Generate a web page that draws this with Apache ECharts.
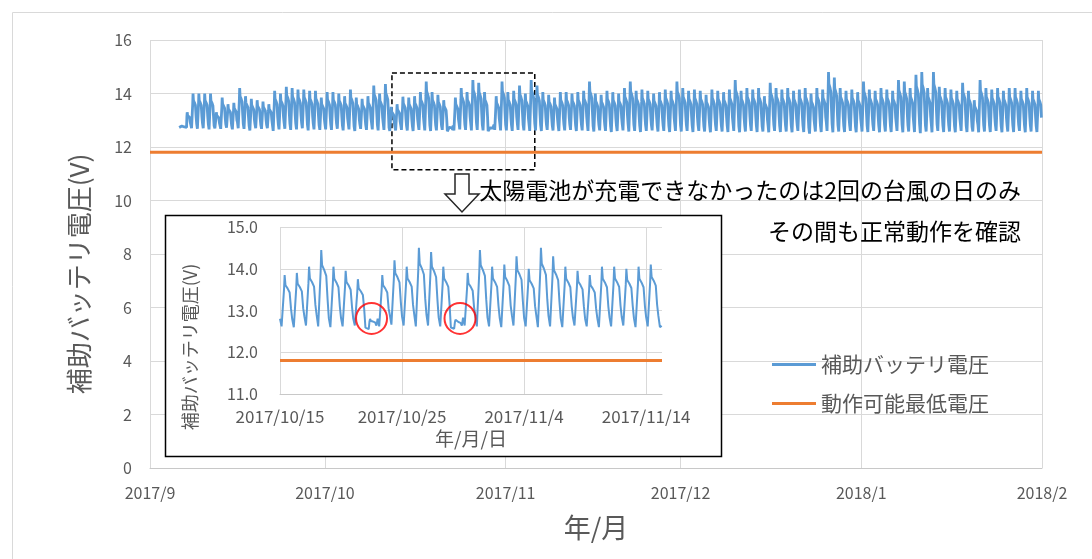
<!DOCTYPE html>
<html>
<head>
<meta charset="utf-8">
<script src="https://cdn.jsdelivr.net/npm/echarts@6/dist/echarts.min.js"></script>
<style>
html, body { margin: 0; padding: 0; background: #fff; }
#main { width: 1092px; height: 559px; }
</style>
</head>
<body>
<div id="main"></div>
<script>
// 日ごとのピーク電圧 (V)  9/6 から
const peakSep = [12.8, 13.3, 14.0, 14.0, 14.0, 14.0, 13.3, 13.85, 13.6, 13.65, 14.2, 13.9, 13.8, 13.75, 13.7, 13.6, 14.1, 14.0, 14.25, 14.2, 14.15, 14.15, 14.1, 14.1, 13.85];
const peakOct = [14.05, 14.05, 14.0, 13.9, 14.15, 13.85, 13.8, 13.9, 14.3, 14.0, 14.35, 13.5, 13.6, 13.88, 13.85, 13.9, 14.05, 14.45, 14.05, 13.95, 13.75, 12.8, 13.85, 14.2, 14.05, 14.5, 14.4, 14.05, 12.78, 13.9, 14.45];
const peakNov = [14.05, 14.1, 14.3, 14.0, 14.5, 14.3, 14.05, 13.95, 13.85, 14.05, 14.05, 14.0, 14.05, 14.1, 14.45, 14.0, 13.95, 14.1, 14.05, 14.0, 14.2, 14.45, 14.1, 14.15, 14.1, 14.0, 14.05, 14.15, 14.1, 14.45];
const peakDec = [14.2, 14.1, 14.15, 14.1, 13.95, 14.15, 14.1, 14.05, 14.15, 14.5, 14.1, 14.2, 14.15, 14.2, 13.9, 14.4, 14.2, 14.15, 14.2, 14.1, 14.15, 14.2, 14.0, 14.2, 14.15, 14.8, 14.6, 14.2, 14.1, 14.15, 14.05];
const peakJan = [14.45, 14.15, 14.1, 14.2, 14.15, 14.1, 14.5, 14.45, 14.2, 14.7, 14.8, 14.2, 14.8, 14.25, 14.2, 14.15, 14.1, 14.4, 14.1, 13.75, 14.5, 14.2, 14.15, 14.2, 14.1, 14.2, 14.2, 14.1, 14.2, 14.1, 14.1];

// 日ごとの最低電圧 (V)
const lowSep = [12.72, 12.72, 12.7, 12.68, 12.7, 12.66, 12.7, 12.68, 12.72, 12.66, 12.7, 12.68, 12.62, 12.7, 12.68, 12.7, 12.6, 12.66, 12.68, 12.64, 12.66, 12.7, 12.62, 12.66, 12.64];
const lowOct = [12.66, 12.64, 12.68, 12.62, 12.66, 12.6, 12.68, 12.64, 12.66, 12.62, 12.64, 12.6, 12.62, 12.64, 12.62, 12.6, 12.64, 12.62, 12.6, 12.62, 12.64, 12.55, 12.62, 12.66, 12.64, 12.62, 12.64, 12.62, 12.56, 12.64, 12.62];
const lowNov = [12.62, 12.6, 12.64, 12.62, 12.6, 12.62, 12.6, 12.64, 12.62, 12.6, 12.62, 12.64, 12.6, 12.62, 12.6, 12.58, 12.62, 12.6, 12.56, 12.6, 12.62, 12.58, 12.6, 12.56, 12.6, 12.62, 12.58, 12.6, 12.56, 12.6];
const lowDec = [12.58, 12.6, 12.56, 12.6, 12.58, 12.55, 12.6, 12.58, 12.56, 12.6, 12.55, 12.58, 12.6, 12.56, 12.58, 12.55, 12.6, 12.56, 12.58, 12.55, 12.6, 12.56, 12.5, 12.58, 12.56, 12.6, 12.55, 12.58, 12.56, 12.6, 12.55];
const lowJan = [12.58, 12.56, 12.6, 12.55, 12.58, 12.56, 12.6, 12.55, 12.58, 12.56, 12.52, 12.58, 12.55, 12.6, 12.56, 12.58, 12.55, 12.6, 12.56, 12.58, 12.55, 12.58, 12.56, 12.6, 12.55, 12.58, 12.56, 12.6, 12.55, 12.58, 12.56];

// 1日の波形 (時刻の割合, 最低→ピークの位置)  拡大図から読み取り
const dayShape = [[0, 0.15], [0.13, 0], [0.27, 0.02], [0.33, 0.72], [0.38, 1], [0.45, 0.8], [0.62, 0.74], [0.79, 0.66], [0.9, 0.35]];

const minVoltage = 11.8;
const seriesNames = ['補助バッテリ電圧', '動作可能最低電圧'];
// 台風の日 (拡大図の日数, 電圧)
const typhoonMarks = [[7.5, 12.81], [14.75, 12.81]];

const DAY = 86400000;
const FONT = '"Noto Sans CJK JP", "Noto Sans", sans-serif';
const t = (y, m, d, h) => new Date(y, m, d, h || 0).getTime();
const OCT15 = t(2017, 9, 15);
const INSET_END = 31.3;

const months = [
    {y: 2017, m: 8, d0: 6, peak: peakSep, low: lowSep},
    {y: 2017, m: 9, d0: 1, peak: peakOct, low: lowOct},
    {y: 2017, m: 10, d0: 1, peak: peakNov, low: lowNov},
    {y: 2017, m: 11, d0: 1, peak: peakDec, low: lowDec},
    {y: 2018, m: 0, d0: 1, peak: peakJan, low: lowJan}
];

const battery = [];
months.forEach(function (mo) {
    mo.peak.forEach(function (p, i) {
        const day = t(mo.y, mo.m, mo.d0 + i);
        const lo = mo.low[i];
        dayShape.forEach(function (s) {
            battery.push([day + s[0] * DAY, +(lo + s[1] * (p - lo)).toFixed(3)]);
        });
    });
});

// 拡大図用 (10/15 からの日数)
const batteryInset = battery
    .map(function (d) { return [(d[0] - OCT15) / DAY, d[1]]; })
    .filter(function (d) { return d[0] >= 0 && d[0] <= INSET_END; });

const gridColor = '#d9d9d9';
const labelColor = '#595959';

const chart = echarts.init(document.getElementById('main'));
chart.setOption({
    animation: false,
    textStyle: {fontFamily: FONT},
    grid: [
        {left: 150, top: 40, right: 50, bottom: 91},
        {left: 280, top: 227, width: 382, height: 167}
    ],
    legend: {
        data: seriesNames,
        orient: 'vertical',
        left: 767,
        top: 349,
        icon: 'rect',
        itemWidth: 44,
        itemHeight: 3,
        itemGap: 18,
        textStyle: {fontSize: 21, color: labelColor, fontFamily: FONT}
    },
    xAxis: [
        {
            type: 'time', gridIndex: 0,
            min: t(2017, 8, 1), max: t(2018, 1, 1),
            minInterval: 28 * DAY, maxInterval: 31 * DAY,
            name: '年/月', nameLocation: 'middle', nameGap: 46,
            nameTextStyle: {fontSize: 27, color: labelColor},
            axisLine: {lineStyle: {color: '#c8c8c8'}},
            axisTick: {show: false},
            splitLine: {show: true, lineStyle: {color: gridColor}},
            axisLabel: {
                color: labelColor, fontSize: 16, margin: 17,
                formatter: function (v) {
                    const d = new Date(v);
                    return d.getFullYear() + '/' + (d.getMonth() + 1);
                }
            }
        },
        {
            type: 'value', gridIndex: 1,
            min: 0, max: INSET_END, interval: 10, z: 20,
            name: '年/月/日', nameLocation: 'middle', nameGap: 35,
            nameTextStyle: {fontSize: 19, color: labelColor},
            axisLine: {lineStyle: {color: '#c8c8c8'}},
            axisTick: {show: false},
            splitLine: {show: true, showMaxLine: false, lineStyle: {color: gridColor}},
            axisLabel: {
                color: labelColor, fontSize: 17, margin: 14, showMaxLabel: false,
                formatter: function (v) {
                    const d = new Date(OCT15 + v * DAY);
                    return d.getFullYear() + '/' + (d.getMonth() + 1) + '/' + d.getDate();
                }
            }
        }
    ],
    yAxis: [
        {
            type: 'value', gridIndex: 0, min: 0, max: 16, interval: 2,
            axisLine: {show: false}, axisTick: {show: false},
            splitLine: {lineStyle: {color: gridColor}},
            axisLabel: {color: labelColor, fontSize: 16, margin: 18}
        },
        {
            type: 'value', gridIndex: 1, min: 11, max: 15, interval: 1, z: 20,
            axisLine: {show: false}, axisTick: {show: false},
            splitLine: {lineStyle: {color: gridColor}},
            axisLabel: {
                color: labelColor, fontSize: 16, margin: 22,
                formatter: function (v) { return v.toFixed(1); }
            }
        }
    ],
    series: [
        {
            name: seriesNames[0], type: 'line', xAxisIndex: 0, yAxisIndex: 0,
            data: battery, symbol: 'none', color: '#5b9bd5',
            lineStyle: {width: 2.8, color: '#5b9bd5'},
            markArea: {
                silent: true,
                itemStyle: {color: 'rgba(0,0,0,0)', borderColor: '#000', borderWidth: 1.5, borderType: [5, 3]},
                data: [[{coord: [t(2017, 9, 12, 12), 14.77]}, {coord: [t(2017, 10, 6), 11.15]}]]
            }
        },
        {
            name: seriesNames[1], type: 'line', xAxisIndex: 0, yAxisIndex: 0,
            data: [[t(2017, 8, 1), minVoltage], [t(2018, 1, 1), minVoltage]],
            symbol: 'none', color: '#ed7d31',
            lineStyle: {width: 3, color: '#ed7d31'}
        },
        {
            name: seriesNames[0], type: 'line', xAxisIndex: 1, yAxisIndex: 1, z: 21,
            data: batteryInset, symbol: 'none', color: '#5b9bd5',
            lineStyle: {width: 2, color: '#5b9bd5'}
        },
        {
            name: seriesNames[1], type: 'line', xAxisIndex: 1, yAxisIndex: 1, z: 21,
            data: [[0, minVoltage], [INSET_END, minVoltage]],
            symbol: 'none', color: '#ed7d31',
            lineStyle: {width: 3, color: '#ed7d31'}
        },
        {
            name: '台風', type: 'scatter', xAxisIndex: 1, yAxisIndex: 1, z: 22,
            data: typhoonMarks, symbol: 'circle', symbolSize: 31, silent: true,
            itemStyle: {color: 'rgba(0,0,0,0)', borderColor: '#ff0000', borderWidth: 2}
        }
    ],
    graphic: [
        {type: 'rect', silent: true, z: -1, shape: {x: 12.5, y: 12.5, width: 1100, height: 600},
            style: {fill: 'none', stroke: '#d9d9d9', lineWidth: 1}},
        {type: 'text', x: 79, y: 274, rotation: Math.PI / 2, silent: true,
            style: {text: '補助バッテリ電圧(V)', fontSize: 26, fill: labelColor, fontFamily: FONT, align: 'center', verticalAlign: 'middle'}},
        {type: 'rect', silent: true, z: 15, shape: {x: 165.5, y: 215.5, width: 556, height: 241},
            style: {fill: '#fff', stroke: '#000', lineWidth: 1.5}},
        {type: 'text', x: 190, y: 347, rotation: Math.PI / 2, silent: true, z: 20,
            style: {text: '補助バッテリ電圧(V)', fontSize: 18, fill: labelColor, fontFamily: FONT, align: 'center', verticalAlign: 'middle'}},
        {type: 'polygon', silent: true, z: 15,
            shape: {points: [[455, 174], [469, 174], [469, 194], [479, 194], [462, 212], [445, 194], [455, 194]]},
            style: {fill: '#fff', stroke: '#262626', lineWidth: 1.5}},
        {type: 'text', x: 1021, y: 190, silent: true, z: 15,
            style: {text: '太陽電池が充電できなかったのは2回の台風の日のみ', fontSize: 23, fill: '#000', fontFamily: FONT, align: 'right', verticalAlign: 'middle'}},
        {type: 'text', x: 1021, y: 231, silent: true, z: 15,
            style: {text: 'その間も正常動作を確認', fontSize: 23, fill: '#000', fontFamily: FONT, align: 'right', verticalAlign: 'middle'}}
    ]
});
</script>
</body>
</html>
